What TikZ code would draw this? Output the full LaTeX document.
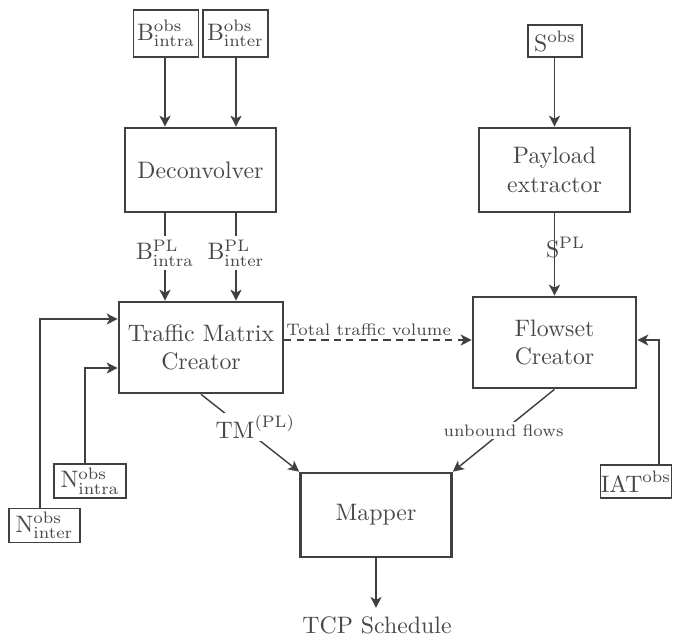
\documentclass[tikz,border=0pt]{standalone}
\usetikzlibrary{arrows.meta}
\definecolor{dk}{RGB}{64,64,64}
\definecolor{tx}{RGB}{72,72,72}
\begin{document}
\begin{tikzpicture}[x=0.42pt,y=-0.42pt,
  every node/.style={text=tx},
  big/.style={draw=dk, line width=1.1pt, minimum width=151*0.42pt, minimum height=84*0.42pt, align=center, inner sep=0pt},
  small/.style={draw=dk, line width=0.5pt, inner sep=0pt},
  conn/.style={draw=dk, line width=0.6pt},
  arr/.style={conn, -{Stealth[length=4.6pt,width=4.6pt,inset=1.2pt]}}]
\useasboundingbox (0,0) rectangle (674,637);
% input boxes
\node[small, minimum width=65*0.42pt, minimum height=47*0.42pt] (bintra) at (166,33.5) {$\mathrm{B}^{\mathrm{obs}}_{\mathrm{intra}}$};
\node[small, minimum width=65*0.42pt, minimum height=47*0.42pt] (binter) at (235.5,33.5) {$\mathrm{B}^{\mathrm{obs}}_{\mathrm{inter}}$};
\node[small, minimum width=54*0.42pt, minimum height=32*0.42pt] (sobs) at (555,41) {$\mathrm{S}^{\mathrm{obs}}$};
\node[small, minimum width=72*0.42pt, minimum height=34*0.42pt] (nintra) at (90,481) {$\mathrm{N}^{\mathrm{obs}}_{\mathrm{intra}}$};
\node[small, minimum width=71*0.42pt, minimum height=34*0.42pt] (ninter) at (44.5,525.5) {$\mathrm{N}^{\mathrm{obs}}_{\mathrm{inter}}$};
\node[small, minimum width=68*0.42pt, minimum height=33*0.42pt] (iat) at (636,481.5) {$\mathrm{IAT}^{\mathrm{obs}}$};
% main boxes
\node[big] (dec) at (200.5,170) {Deconvolver};
\node[big, minimum width=164*0.42pt, minimum height=91*0.42pt] (tmc) at (201,347.5) {Traffic Matrix\\Creator};
\node[big] (pe) at (554.5,170) {Payload\\extractor};
\node[big, minimum width=163*0.42pt, minimum height=91*0.42pt] (fc) at (554.5,342.5) {Flowset\\Creator};
\node[big] (map) at (376,515) {Mapper};
\node (tcp) at (377,625) {TCP Schedule};
% labels
\node[inner sep=1.2pt] (bpl1) at (165,253) {$\mathrm{B}^{\mathrm{PL}}_{\mathrm{intra}}$};
\node[inner sep=1.2pt] (bpl2) at (236,253) {$\mathrm{B}^{\mathrm{PL}}_{\mathrm{inter}}$};
\node (spl) at (565.5,247) {$\mathrm{S}^{\mathrm{PL}}$};
% connectors
\draw[arr] (bintra.south -| bpl1) -- (dec.north -| bpl1);
\draw[arr] (binter.south -| bpl2) -- (dec.north -| bpl2);
\draw[conn] (dec.south -| bpl1) -- (bpl1);
\draw[conn] (dec.south -| bpl2) -- (bpl2);
\draw[arr] (bpl1) -- (tmc.north -| bpl1);
\draw[arr] (bpl2) -- (tmc.north -| bpl2);
\draw[arr] (sobs.south -| pe.north) -- (pe.north);
\draw[arr] (pe.south) -- (fc.north);
\draw[arr, dash pattern=on 3pt off 2.2pt] (tmc.east |- 0,340) -- node[above, pos=0.45, font=\scriptsize, inner sep=1.5pt] (ttv) {Total traffic volume} (fc.west |- 0,340);
\draw[arr] (tmc.south) -- node[pos=0.42, xshift=5.5pt, fill=white, inner sep=1pt] (tml) {$\mathrm{TM}^{(\mathrm{PL})}$} (map.north west);
\draw[arr] (fc.south) -- node[fill=white, inner sep=1pt, font=\scriptsize] (ubl) {unbound flows} (map.north east);
\coordinate (ci) at (85,368);
\coordinate (ce) at (40,319);
\coordinate (ca) at (659,340);
\draw[arr] (nintra.north -| ci) |- (tmc.west |- ci);
\draw[arr] (ninter.north -| ce) |- (tmc.west |- ce);
\draw[arr] (iat.north -| ca) |- (fc.east |- ca);
\draw[arr] (map.south) -- (tcp.north -| map.south);
\end{tikzpicture}
\end{document}
